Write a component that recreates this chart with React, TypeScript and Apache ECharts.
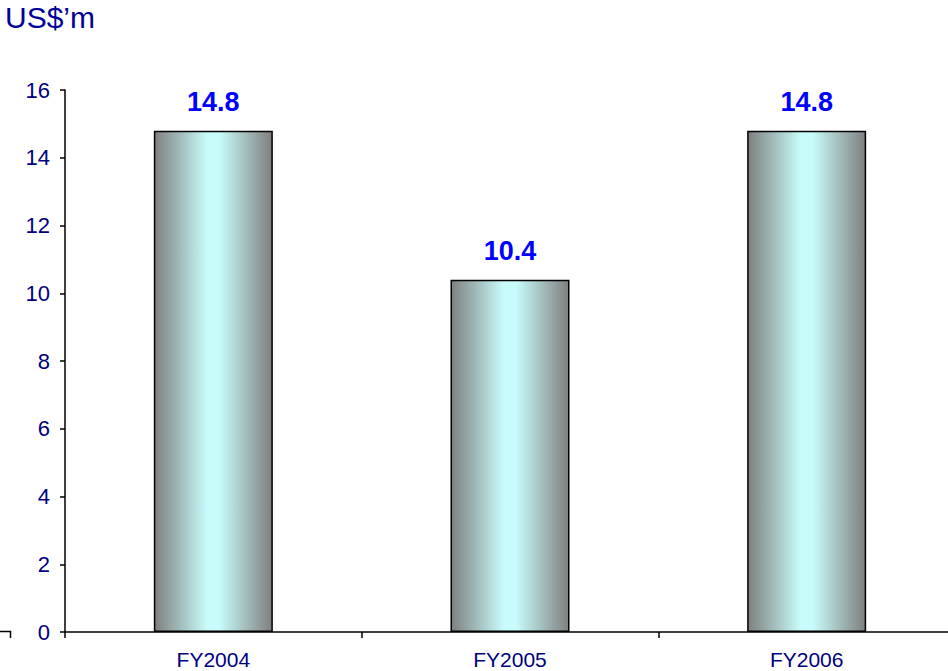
import React, { useEffect, useRef } from "react";
import * as echarts from "echarts";

const categories = ["FY2004", "FY2005", "FY2006"];
const values = [14.8, 10.4, 14.8];
const yMin = 0;
const yMax = 16;
const yInterval = 2;
const unitLabel = "US$\u2019m";

const FONT = "'Liberation Sans', Arial, sans-serif";

export default function App() {
  const ref = useRef<HTMLDivElement>(null);

  useEffect(() => {
    if (!ref.current) return;
    const chart = echarts.init(ref.current, null, { renderer: "svg" });
    const barGradient = new echarts.graphic.LinearGradient(0, 0, 1, 0, [
      { offset: 0, color: "#7f7f7f" },
      { offset: 0.45, color: "#c8fcfc" },
      { offset: 0.55, color: "#c8fcfc" },
      { offset: 1, color: "#7f7f7f" },
    ]);
    chart.setOption({
      animation: false,
      backgroundColor: "#ffffff",
      textStyle: { fontFamily: FONT },
      // the plot runs slightly past the visible right edge
      grid: { left: 65, top: 90, right: 5, bottom: 39, containLabel: false },
      graphic: [
        {
          type: "text",
          left: 5,
          top: 2,
          style: {
            text: unitLabel,
            fill: "#000099",
            font: `30px ${FONT}`,
          },
        },
        {
          type: "polyline",
          shape: { points: [[0, 631.5], [10.5, 631.5], [10.5, 638]] },
          style: { stroke: "#000000", lineWidth: 1.5, fill: null },
        },
      ],
      xAxis: {
        type: "category",
        data: categories,
        axisLine: { lineStyle: { color: "#000000", width: 1.5 } },
        axisTick: { show: true, length: 6, alignWithLabel: false, lineStyle: { color: "#000000", width: 1.5 } },
        axisLabel: {
          color: "#000080",
          fontSize: 21,
          margin: 17,
          fontFamily: FONT,
        },
        splitLine: { show: false },
      },
      yAxis: {
        type: "value",
        min: yMin,
        max: yMax,
        interval: yInterval,
        axisLine: { show: true, lineStyle: { color: "#000000", width: 1.5 } },
        axisTick: { show: true, length: 5, lineStyle: { color: "#000000", width: 1.5 } },
        axisLabel: {
          color: "#000080",
          fontSize: 22,
          margin: 15,
          fontFamily: FONT,
        },
        splitLine: { show: false },
      },
      series: [
        {
          type: "bar",
          data: values,
          barWidth: 119,
          itemStyle: {
            color: barGradient,
            borderColor: "#000000",
            borderWidth: 1.5,
          },
          label: {
            show: true,
            position: "top",
            distance: 15,
            color: "#0000ff",
            fontWeight: "bold",
            fontSize: 27,
            fontFamily: FONT,
            formatter: (p: any) => p.value.toFixed(1),
          },
        },
      ],
    });
    return () => chart.dispose();
  }, []);

  return (
    <div style={{ position: "fixed", left: 0, top: 0, width: 948, height: 671, overflow: "hidden" }}>
      <div ref={ref} style={{ width: 960, height: 671 }} />
    </div>
  );
}
